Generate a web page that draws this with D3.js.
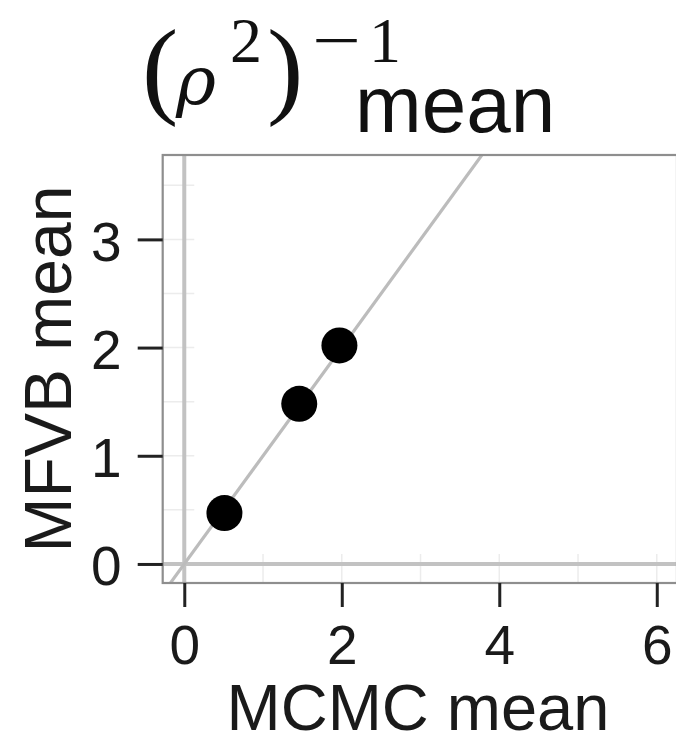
<!DOCTYPE html>
<html>
<head>
<meta charset="utf-8">
<script src="https://cdn.jsdelivr.net/npm/d3@7"></script>
<style>
  html, body { margin: 0; padding: 0; background: #ffffff; }
  svg { display: block; }
  .sans { font-family: "Liberation Sans", Arial, Helvetica, sans-serif; }
  .serif { font-family: "Liberation Serif", "Times New Roman", serif; }
  .greek { font-family: "DejaVu Serif", "Liberation Serif", serif; }
</style>
</head>
<body>
<svg id="chart" width="676" height="735"></svg>
<script>
// Posterior means of (rho^2)^-1: MCMC vs mean-field variational Bayes
const mcmcMean = [0.51, 1.46, 1.97];
const mfvbMean = [0.47, 1.48, 2.02];

// Axis ticks
const xTicks = [0, 2, 4, 6];
const yTicks = [0, 1, 2, 3];
const xGridMinor = [1, 3, 5];
const yGridMinor = [0.5, 1.5, 2.5, 3.5];

// Axis limits
const xLimits = [-0.274, 6.257];
const yLimits = [-0.176, 3.78];

const svg = d3.select("#chart");
const panel = { left: 162.7, right: 677, top: 155, bottom: 583 };

const x = d3.scaleLinear().domain(xLimits).range([panel.left, panel.right]);
const y = d3.scaleLinear().domain(yLimits).range([panel.bottom, panel.top]);

// Panel background
svg.append("rect")
  .attr("x", panel.left).attr("y", panel.top)
  .attr("width", panel.right - panel.left)
  .attr("height", panel.bottom - panel.top)
  .attr("fill", "#ffffff");

svg.append("clipPath").attr("id", "panel-clip")
  .append("rect")
  .attr("x", panel.left).attr("y", panel.top)
  .attr("width", panel.right - panel.left)
  .attr("height", panel.bottom - panel.top);

const plot = svg.append("g").attr("clip-path", "url(#panel-clip)");

// Faint grid stubs along the panel edges
const gridColor = "#ececec";
plot.selectAll("line.vgrid")
  .data(xTicks.concat(xGridMinor))
  .join("line")
  .attr("class", "vgrid")
  .attr("x1", d => x(d)).attr("x2", d => x(d))
  .attr("y1", panel.bottom).attr("y2", y(0) - 10)
  .attr("stroke", gridColor).attr("stroke-width", 1.5);

plot.selectAll("line.hgrid")
  .data(yTicks.concat(yGridMinor))
  .join("line")
  .attr("class", "hgrid")
  .attr("x1", panel.left).attr("x2", x(0) + 10)
  .attr("y1", d => y(d)).attr("y2", d => y(d))
  .attr("stroke", gridColor).attr("stroke-width", 1.5);

// Reference lines: x = 0, y = 0 and identity
const refColor = "#c2c2c2";
plot.append("line")
  .attr("x1", x(0)).attr("x2", x(0))
  .attr("y1", y(yLimits[0])).attr("y2", y(yLimits[1]))
  .attr("stroke", refColor).attr("stroke-width", 4);
plot.append("line")
  .attr("x1", x(xLimits[0])).attr("x2", x(xLimits[1]))
  .attr("y1", y(0)).attr("y2", y(0))
  .attr("stroke", refColor).attr("stroke-width", 4);
const lo = Math.min(xLimits[0], yLimits[0]);
const hi = Math.max(xLimits[1], yLimits[1]);
plot.append("line")
  .attr("x1", x(lo)).attr("y1", y(lo))
  .attr("x2", x(hi)).attr("y2", y(hi))
  .attr("stroke", "#bcbcbc").attr("stroke-width", 3.2);

// Points
plot.selectAll("circle.pt")
  .data(mcmcMean.map((m, i) => [m, mfvbMean[i]]))
  .join("circle")
  .attr("class", "pt")
  .attr("cx", d => x(d[0]))
  .attr("cy", d => y(d[1]))
  .attr("r", 18)
  .attr("fill", "#000000");

// Panel border
svg.append("rect")
  .attr("x", panel.left).attr("y", panel.top)
  .attr("width", panel.right - panel.left)
  .attr("height", panel.bottom - panel.top)
  .attr("fill", "none")
  .attr("stroke", "#8e8e8e").attr("stroke-width", 2.2);

// Axes
const tickFont = 55;
const xAxis = svg.append("g")
  .attr("transform", `translate(0,${panel.bottom})`)
  .call(d3.axisBottom(x).tickValues(xTicks).tickSize(24).tickFormat(d3.format("d")));
const yAxis = svg.append("g")
  .attr("transform", `translate(${panel.left},0)`)
  .call(d3.axisLeft(y).tickValues(yTicks).tickSize(25).tickFormat(d3.format("d")));

[xAxis, yAxis].forEach(g => {
  g.select(".domain").remove();
  g.selectAll(".tick line").attr("stroke", "#222222").attr("stroke-width", 3);
  g.selectAll(".tick text")
    .attr("class", "sans")
    .attr("font-size", tickFont)
    .attr("fill", "#1a1a1a");
});
xAxis.selectAll(".tick text").attr("y", 42).attr("dy", "0.71em");
yAxis.selectAll(".tick text").attr("x", -41).attr("dy", "0.38em");

// Axis titles
const labelFont = 65;
svg.append("text")
  .attr("class", "sans")
  .attr("x", 418)
  .attr("y", 730)
  .attr("text-anchor", "middle")
  .attr("font-size", labelFont)
  .attr("fill", "#1a1a1a")
  .text("MCMC mean");

svg.append("text")
  .attr("class", "sans")
  .attr("transform", `translate(71,${(panel.top + panel.bottom) / 2}) rotate(-90)`)
  .attr("text-anchor", "middle")
  .attr("font-size", 66)
  .attr("fill", "#1a1a1a")
  .text("MFVB mean");

// Panel title: (rho^2)^{-1}_mean
const title = svg.append("g").attr("fill", "#111111");
title.append("text").attr("class", "serif")
  .attr("x", 142).attr("y", 104).attr("font-size", 109).text("(");
title.append("text").attr("class", "greek")
  .attr("x", 176).attr("y", 104).attr("font-size", 68)
  .attr("font-style", "italic").text("ρ");
title.append("text").attr("class", "serif")
  .attr("x", 230).attr("y", 62).attr("font-size", 64).text("2");
title.append("text").attr("class", "serif")
  .attr("x", 267).attr("y", 104).attr("font-size", 109).text(")");
title.append("text").attr("class", "serif")
  .attr("x", 312).attr("y", 62).attr("font-size", 64)
  .attr("textLength", 49).attr("lengthAdjust", "spacingAndGlyphs").text("−");
title.append("text").attr("class", "serif")
  .attr("x", 385).attr("y", 62).attr("font-size", 64)
  .attr("text-anchor", "middle").text("1");
title.append("text").attr("class", "sans")
  .attr("x", 355).attr("y", 132).attr("font-size", 80).text("mean");
</script>
</body>
</html>
